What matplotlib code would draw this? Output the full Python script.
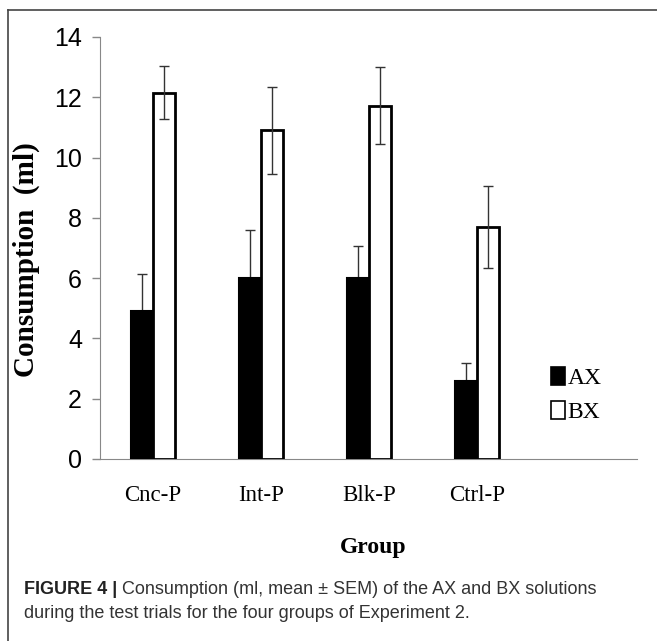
import numpy as np
import matplotlib.pyplot as plt
from matplotlib.lines import Line2D

groups = ['Cnc-P', 'Int-P', 'Blk-P', 'Ctrl-P']
ax_mean = [4.9, 6.0, 6.0, 2.6]
ax_sem = [1.25, 1.6, 1.05, 0.6]
bx_mean = [12.15, 10.9, 11.72, 7.7]
bx_sem = [0.88, 1.45, 1.27, 1.35]

W, H = 657, 641
fig = plt.figure(figsize=(W / 100, H / 100), dpi=100)

# frame around the figure panel (open on right / bottom like the crop)
fig.add_artist(Line2D([8 / W, 8 / W], [0, 1 - 10 / H], color='#444444', lw=1.2))
fig.add_artist(Line2D([8 / W, 1], [1 - 10 / H, 1 - 10 / H], color='#444444', lw=1.2))

ax = fig.add_axes([100 / W, 1 - 459 / H, (637 - 100) / W, (459 - 37) / H])

x = np.arange(len(groups))
bw = 0.205
ax.bar(x - bw / 2, ax_mean, bw, color='black', edgecolor='black',
       linewidth=1.5, label='AX', zorder=3)
ax.bar(x + bw / 2, bx_mean, bw, color='white', edgecolor='black',
       linewidth=2.0, label='BX', zorder=3)
# AX error bars sit behind the black bars, so only the upper half shows
ax.errorbar(x - bw / 2, ax_mean, yerr=ax_sem, fmt='none', ecolor='#333333',
            elinewidth=1.0, capsize=3.8, capthick=1.0, zorder=2)
ax.errorbar(x + bw / 2, bx_mean, yerr=bx_sem, fmt='none', ecolor='#333333',
            elinewidth=1.0, capsize=3.8, capthick=1.0, zorder=4)

ax.set_xlim(-0.49, 4.48)
ax.set_ylim(0, 14)
ax.set_yticks(np.arange(0, 15, 2))
ax.set_xticks(x)
ax.set_xticklabels(groups, family='Liberation Serif', fontsize=16.5)
for t in ax.get_yticklabels():
    t.set_family('Liberation Sans')
    t.set_fontsize(18)
ax.tick_params(axis='y', length=6, width=1, color='#888888', pad=7)
ax.tick_params(axis='x', length=0, pad=19)

for s in ['top', 'right']:
    ax.spines[s].set_visible(False)
ax.spines['left'].set_color('#888888')
ax.spines['bottom'].set_color('#888888')

ax.set_xlabel('Group', family='Liberation Serif', fontweight='bold', fontsize=17)
ax.xaxis.set_label_coords((373 - 100) / (637 - 100), -(537 - 459) / (459 - 37))
ax.set_ylabel('Consumption  (ml)', family='Liberation Serif', fontweight='bold', fontsize=21)
ax.yaxis.set_label_coords(-(100 - 40) / (637 - 100), (459 - 260) / (459 - 37))

leg = ax.legend(loc='center left', bbox_to_anchor=(539 / W, 1 - 395 / H),
                bbox_transform=fig.transFigure, frameon=False,
                prop={'family': 'Liberation Serif', 'size': 17},
                handlelength=0.6, handleheight=0.8, handletextpad=0.1,
                borderpad=0, labelspacing=0.5)
for h in leg.legend_handles:
    h.set_linewidth(1.2)

# caption
cap1 = fig.text(24 / W, 1 - 589 / H, 'FIGURE 4 |', family='Liberation Sans', fontweight='bold',
                fontsize=13, color='#222222', va='center')
ax.annotate(' Consumption (ml, mean \u00b1 SEM) of the AX and BX solutions',
            xy=(1, 0.5), xycoords=cap1, va='center', ha='left',
            family='Liberation Sans', fontsize=13, color='#333333', annotation_clip=False)
fig.text(24 / W, 1 - 613 / H, 'during the test trials for the four groups of Experiment 2.',
         family='Liberation Sans', fontsize=13, color='#333333', va='center')

fig.savefig('out.png', dpi=100)
